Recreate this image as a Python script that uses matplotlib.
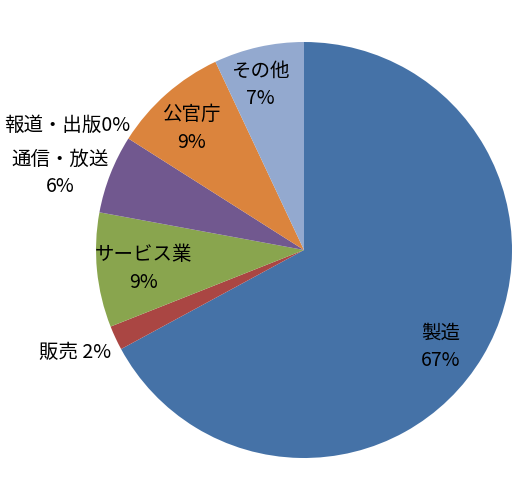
import matplotlib
matplotlib.use("Agg")
import matplotlib.pyplot as plt
import numpy as np

plt.rcParams['font.family'] = ['Noto Sans CJK JP', 'DejaVu Sans']

categories = ['製造', '販売', 'サービス業', '通信・放送', '報道・出版', '公官庁', 'その他']
values = [67.1, 1.9, 8.9, 6.1, 0.0, 9.0, 7.0]
colors = ['#4572A7', '#AA4643', '#89A54E', '#71588F', '#4198AF', '#DB843D', '#93A9CF']

# label layout: (mode, x_px, y_px, separator)
label_layout = [
    ('two', 441, 347, ''),
    ('one', 75, 353, ' '),
    ('two', 143, 268, ''),
    ('two', 60, 173, ''),
    ('one', 67, 125, ''),
    ('two', 191, 129, ''),
    ('two', 260, 85, ''),
]

W, H = 526, 500
fig = plt.figure(figsize=(W / 100, H / 100), dpi=100)
ax = fig.add_axes([0, 0, 1, 1])

cx, cy, R = 304, 250, 208
ax.pie(values, colors=colors, startangle=90, counterclock=False,
       center=(cx, H - cy), radius=R, frame=True,
       wedgeprops=dict(linewidth=0))
ax.set_xlim(0, W)
ax.set_ylim(0, H)
ax.set_aspect('equal')
ax.axis('off')

total = sum(values)
fs = 14
for name, v, (mode, x, y, sep) in zip(categories, values, label_layout):
    pct = f"{round(v / total * 100):d}%"
    if mode == 'two':
        ax.text(x, H - (y - 14), name, ha='center', va='center', fontsize=fs, color='black')
        ax.text(x, H - (y + 14), pct, ha='center', va='center', fontsize=fs, color='black')
    else:
        ax.text(x, H - y, f"{name}{sep}{pct}", ha='center', va='center', fontsize=fs, color='black')

fig.savefig('out.png', dpi=100)
